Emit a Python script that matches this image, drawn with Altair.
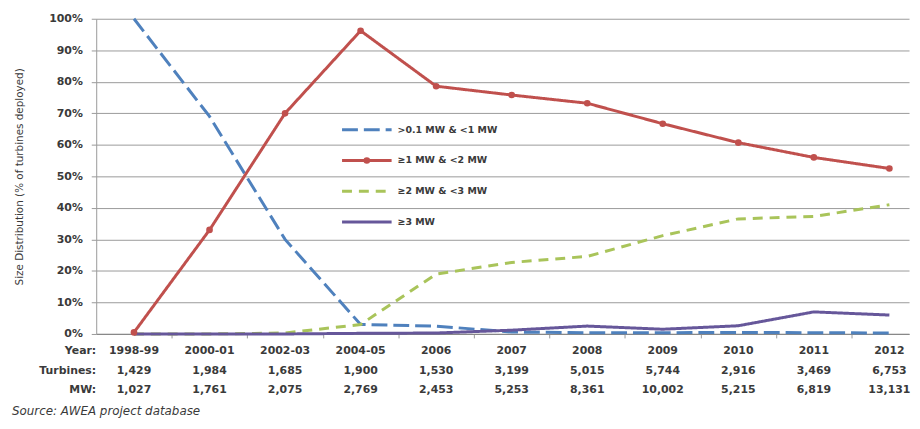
import altair as alt
import pandas as pd

# ---- data ----
years = ["1998-99", "2000-01", "2002-03", "2004-05", "2006", "2007", "2008", "2009", "2010", "2011", "2012"]
turbines = ["1,429", "1,984", "1,685", "1,900", "1,530", "3,199", "5,015", "5,744", "2,916", "3,469", "6,753"]
mw = ["1,027", "1,761", "2,075", "2,769", "2,453", "5,253", "8,361", "10,002", "5,215", "6,819", "13,131"]

series_names = [">0.1 MW & <1 MW", "≥1 MW & <2 MW", "≥2 MW & <3 MW", "≥3 MW"]
s_small = [100, 69, 30, 3, 2.5, 0.6, 0.4, 0.4, 0.5, 0.4, 0.3]
s_1to2 = [0.5, 33, 70, 96.2, 78.6, 75.8, 73.2, 66.7, 60.7, 56, 52.5]
s_2to3 = [0, 0, 0.3, 3, 19, 22.7, 24.6, 31.2, 36.5, 37.3, 41]
s_3plus = [0, 0, 0, 0.2, 0.3, 1.2, 2.5, 1.5, 2.6, 7, 6]
y_ticks = [0, 10, 20, 30, 40, 50, 60, 70, 80, 90, 100]

colors = ["#4f81bd", "#c0504d", "#a9c45a", "#66579a"]
dashes = [[16, 6], [1, 0], [10, 7], [1, 0]]

rows = []
for name, vals in zip(series_names, [s_small, s_1to2, s_2to3, s_3plus]):
    for i, v in enumerate(vals):
        rows.append({"idx": i, "series": name, "value": v})
df = pd.DataFrame(rows)

table = pd.DataFrame({"idx": list(range(len(years))), "year": years, "turb": turbines, "mw": mw})
legend_df = pd.DataFrame({"series": series_names, "row": [0, 1, 2, 3]})

FONT = "DejaVu Sans"
TXT = "#3a3a3a"

xscale = alt.Scale(domain=[-0.5, 10.26], nice=False, zero=False)
color_enc = alt.Color("series:N", scale=alt.Scale(domain=series_names, range=colors), legend=None)
dash_enc = alt.StrokeDash("series:N", scale=alt.Scale(domain=series_names, range=dashes), legend=None)

x_enc = alt.X("idx:Q", scale=xscale,
              axis=alt.Axis(values=[i + 0.5 for i in range(10)], labels=False, grid=False,
                            ticks=True, tickSize=4, tickColor="#999999",
                            domainColor="#888888", domainWidth=1.2, title=None))
y_enc = alt.Y("value:Q", scale=alt.Scale(domain=[0, 100], nice=False),
              axis=alt.Axis(values=y_ticks, labelExpr="datum.value + '%'", labelOverlap=False,
                            title="Size Distribution (% of turbines deployed)",
                            titleFont=FONT, titleFontSize=10.5, titleFontWeight="normal",
                            titleColor=TXT, titleX=-77, titleY=159, titleAngle=270,
                            titleBaseline="middle", titleAlign="center",
                            labelFont=FONT, labelFontSize=11, labelFontWeight="bold",
                            labelColor=TXT, labelPadding=9,
                            tickSize=5, tickColor="#999999", domainColor="#999999",
                            gridColor="#9a9a9a", gridWidth=1))

lines = alt.Chart(df).mark_line(strokeWidth=3).encode(
    x=x_enc, y=y_enc, color=color_enc, strokeDash=dash_enc, order="idx:Q")

points = alt.Chart(df).transform_filter(
    alt.datum.series == series_names[1]
).mark_point(filled=True, size=45, opacity=1, shape="circle").encode(
    x=x_enc, y=y_enc, color=color_enc)

def row_text(field, ypos):
    return alt.Chart(table).mark_text(font=FONT, fontSize=11, fontWeight="bold", color=TXT,
                                      align="center", baseline="middle").encode(
        x="idx:Q", y=alt.value(ypos), text=f"{field}:N")

def row_label(label, ypos):
    return alt.Chart(table).transform_filter(alt.datum.idx == 0).mark_text(
        text=label, font=FONT, fontSize=11, fontWeight="bold", color=TXT,
        align="right", baseline="middle").encode(x=alt.value(0), y=alt.value(ypos))

source = alt.Chart(table).transform_filter(alt.datum.idx == 0).mark_text(
    text="Source: AWEA project database", font=FONT, fontSize=12, fontStyle="italic",
    color=TXT, align="left", baseline="middle").encode(x=alt.value(-85), y=alt.value(396))

main = alt.layer(
    lines, points,
    row_text("year", 335), row_text("turb", 355), row_text("mw", 375),
    row_label("Year:", 335), row_label("Turbines:", 355), row_label("MW:", 375),
    source,
)

ly = alt.Y("row:O", scale=alt.Scale(type="point", domain=[0, 1, 2, 3], range=[112, 205], padding=0),
           axis=None)
leg_rule = alt.Chart(legend_df).mark_rule(strokeWidth=3).encode(
    x=alt.value(248), x2=alt.value(298), y=ly, color=color_enc, strokeDash=dash_enc)
leg_pt = alt.Chart(legend_df).transform_filter(alt.datum.series == series_names[1]).mark_point(
    filled=True, size=45, opacity=1, shape="circle").encode(x=alt.value(273), y=ly, color=color_enc)
leg_txt = alt.Chart(legend_df).mark_text(font=FONT, fontSize=9.5, fontWeight="bold", color=TXT,
                                         align="left", baseline="middle").encode(
    x=alt.value(304), y=ly, text="series:N")
legend = alt.layer(leg_rule, leg_pt, leg_txt)

chart = alt.layer(main, legend).resolve_scale(y="independent").properties(
    width=820, height=318,
    padding={"left": 89, "top": 9, "right": 3, "bottom": 90},
    autosize=alt.AutoSizeParams(type="none"),
    background="white",
).configure_view(stroke=None)

chart.save("out.html", embed_options={"renderer": "svg", "actions": False})
